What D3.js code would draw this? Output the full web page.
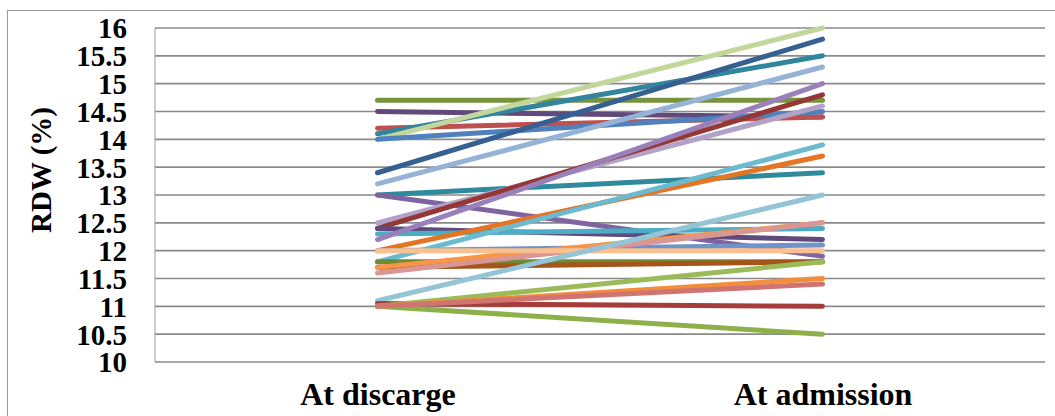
<!DOCTYPE html>
<html>
<head>
<meta charset="utf-8">
<script src="https://cdn.jsdelivr.net/npm/d3@7"></script>
<style>
  html, body { margin: 0; padding: 0; background: #fff; }
  svg { display: block; }
</style>
</head>
<body>
<svg id="chart" width="1055" height="416"></svg>
<script>
const categories = ["At discarge", "At admission"];
const yTicks = [10, 10.5, 11, 11.5, 12, 12.5, 13, 13.5, 14, 14.5, 15, 15.5, 16];
const yLabel = "RDW (%)";
// each patient: [value at discharge, value at admission]
const dischargeValues = [14.7, 14.5, 14.2, 14.1, 14.0, 14.0, 13.4, 13.2, 13.0, 13.0,
                         12.5, 12.4, 12.4, 12.3, 12.2, 12.0, 12.0, 11.8, 11.8, 11.7,
                         11.7, 11.6, 12.0, 11.1, 11.05, 11.0, 11.0, 11.0, 11.0];
const admissionValues = [14.7, 14.4, 14.4, 15.5, 16.0, 14.5, 15.8, 15.3, 13.4, 11.9,
                         14.6, 14.8, 12.2, 12.4, 15.0, 13.7, 12.1, 13.9, 11.8, 11.8,
                         12.5, 12.5, 12.0, 13.0, 11.0, 11.8, 10.5, 11.5, 11.4];
const seriesColors = ["#77933C", "#604A7B", "#C0504D", "#31859C", "#C3D69B", "#4F81BD", "#376092", "#95B3D7", "#2F8A9E", "#8064A2",
                      "#B3A2C7", "#953735", "#604A7B", "#4BACC6", "#9A80BA", "#E37525", "#6F94CC", "#6CBAD0", "#6F8A35", "#A5551A",
                      "#F79646", "#D99694", "#FAC090", "#93C5D6", "#A53E3B", "#9BBB59", "#8DB04A", "#F38D3C", "#CF7470"];

const FONT = "Liberation Serif";
const svg = d3.select("#chart");
const margin = { left: 155, top: 28, right: 1045, bottom: 362 };

// outer chart border
svg.append("rect")
  .attr("x", 7.5).attr("y", 10.5)
  .attr("width", 1060).attr("height", 420)
  .attr("fill", "none").attr("stroke", "#9a9a9a").attr("stroke-width", 1);

const x = d3.scalePoint().domain(categories).range([margin.left, margin.right]).padding(0.5);
const y = d3.scaleLinear().domain([10, 16]).range([margin.bottom, margin.top]);

// gridlines
svg.append("g").selectAll("line").data(yTicks).join("line")
  .attr("x1", margin.left).attr("x2", margin.right)
  .attr("y1", d => y(d)).attr("y2", d => y(d))
  .attr("stroke", "#8a8a8a").attr("stroke-width", 1.6);

// left axis line
svg.append("line")
  .attr("x1", margin.left).attr("x2", margin.left)
  .attr("y1", y(16)).attr("y2", y(10))
  .attr("stroke", "#9a9a9a").attr("stroke-width", 1);

// y axis (labels only)
const yAxis = svg.append("g")
  .attr("transform", `translate(${margin.left},0)`)
  .attr("font-family", FONT)
  .call(d3.axisLeft(y).tickValues(yTicks).tickSize(0).tickPadding(28).tickFormat(d3.format("")));
yAxis.attr("font-family", FONT).attr("font-size", 29).attr("font-weight", "bold");
yAxis.select(".domain").remove();
yAxis.selectAll("text").attr("dy", "0.34em").attr("fill", "#000");

// x axis labels
const xAxis = svg.append("g")
  .attr("transform", `translate(0,${margin.bottom})`)
  .call(d3.axisBottom(x).tickSize(0).tickPadding(0));
xAxis.attr("font-family", FONT).attr("font-size", 32).attr("font-weight", "bold");
xAxis.select(".domain").remove();
xAxis.selectAll("text").attr("y", 43).attr("dy", 0).attr("fill", "#000");

// y label
svg.append("text")
  .attr("transform", "translate(51,170) rotate(-90)")
  .attr("text-anchor", "middle")
  .attr("font-family", FONT).attr("font-weight", "bold").attr("font-size", 29)
  .attr("fill", "#000")
  .text(yLabel);

// lines
const data = dischargeValues.map((d, i) => ({ vals: [d, admissionValues[i]], color: seriesColors[i] }));
const line = d3.line().x((d, i) => x(categories[i])).y(d => y(d));
svg.append("g").selectAll("path").data(data).join("path")
  .attr("d", d => line(d.vals))
  .attr("fill", "none")
  .attr("stroke", d => d.color)
  .attr("stroke-width", 5)
  .attr("stroke-linecap", "round");
</script>
</body>
</html>
